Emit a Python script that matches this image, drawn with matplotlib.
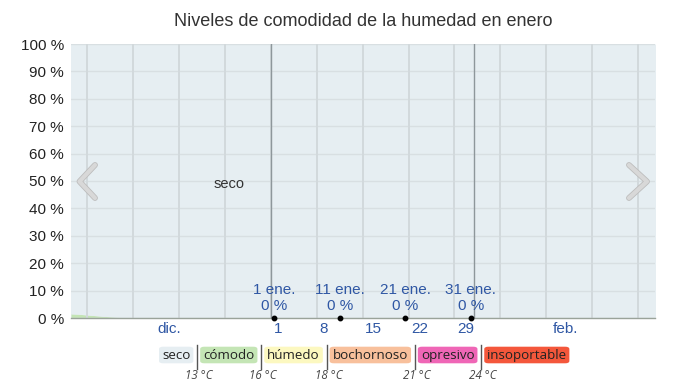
import numpy as np
import matplotlib
matplotlib.use("Agg")
import matplotlib.pyplot as plt
from matplotlib.patches import FancyBboxPatch
from matplotlib.lines import Line2D
import matplotlib.patheffects as pe

# ---------------- data ----------------
# day offsets relative to 1 January (0 = 1 ene.), one value per day
days = np.arange(-31, 60)
comodo = [1.5, 1.4, 1.2, 1.0, 0.8, 0.6, 0.45, 0.3, 0.2, 0.1, 0.05,
          0, 0, 0, 0, 0, 0, 0, 0, 0, 0, 0, 0, 0, 0, 0, 0, 0, 0, 0, 0,
          0, 0, 0, 0, 0, 0, 0, 0, 0, 0, 0, 0, 0, 0, 0, 0, 0, 0, 0, 0,
          0, 0, 0, 0, 0, 0, 0, 0, 0, 0, 0, 0, 0, 0, 0, 0, 0, 0, 0, 0,
          0, 0, 0, 0, 0, 0, 0, 0, 0, 0, 0, 0, 0, 0, 0, 0, 0, 0, 0, 0]
comodo = np.array(comodo[:len(days)], dtype=float)
seco = 100 - comodo

ann_days = [1, 11, 21, 31]
ann_labels = ["1 ene.", "11 ene.", "21 ene.", "31 ene."]
ann_values = [0, 0, 0, 0]

month_labels = ["dic.", "feb."]
month_centers = [-15.5, 45.0]
week_labels = ["1", "8", "15", "22", "29"]
week_days = [1, 8, 15, 22, 29]

yticks = [0, 10, 20, 30, 40, 50, 60, 70, 80, 90, 100]

categories = ["seco", "cómodo", "húmedo", "bochornoso", "opresivo", "insoportable"]
cat_colors = ["#e6eef2", "#c4e5b5", "#fcf8c0", "#f8c09c", "#ef66b6", "#f4573b"]
thresholds = ["13 °C", "16 °C", "18 °C", "21 °C", "24 °C"]

title = "Niveles de comodidad de la humedad en enero"

# ---------------- figure ----------------
W, H = 686, 390
fig = plt.figure(figsize=(W / 100, H / 100), dpi=100)
fig.patch.set_facecolor("white")


def fx(px):
    return px / W


def fy(py):
    return 1 - py / H


L, R, T, B = 71, 655, 44, 318
ax = fig.add_axes([fx(L), fy(B), (R - L) / W, (B - T) / H])
ax.set_xlim(-30.5, 58.6)
ax.set_ylim(0, 100)
ax.set_facecolor("#e6eef2")

x = days + 0.5
ax.fill_between(x, 0, comodo, color=cat_colors[1], lw=0, zorder=1)
ax.fill_between(x, comodo, comodo + seco, color=cat_colors[0], lw=0, zorder=1)

# grid
for v in yticks:
    ax.axhline(v, color="#d8dfe2", lw=1.0, zorder=2)
for d in range(-35, 60, 7):
    ax.axvline(d, color="#d2d9dc", lw=1.4, zorder=2)
for d in [0, 31]:
    ax.axvline(d, color="#8e979b", lw=1.0, zorder=3)

for s in ["top", "right", "left"]:
    ax.spines[s].set_visible(False)
ax.spines["bottom"].set_color("#9aa39a")
ax.spines["bottom"].set_linewidth(1.0)
ax.spines["bottom"].set_zorder(4)

ax.set_yticks(yticks)
ax.set_yticklabels([f"{v} %" for v in yticks], fontsize=11, color="#222222",
                   family="Liberation Sans")
ax.tick_params(axis="y", length=0, pad=5)
ax.set_xticks([])

blue = "#2f57a4"
xt = ax.get_xaxis_transform()
for lab, c in zip(month_labels, month_centers):
    ax.text(c, -0.04, lab, transform=xt, ha="center", va="center", fontsize=11,
            color=blue, family="Liberation Sans")
for lab, d in zip(week_labels, week_days):
    ax.text(d - 1 + 0.4, -0.04, lab, transform=xt, ha="left", va="center",
            fontsize=11, color=blue, family="Liberation Sans")

# annotations
for d, lab, v in zip(ann_days, ann_labels, ann_values):
    xd = d - 1 + 0.5
    ax.plot([xd], [v], "o", color="black", ms=3.2, zorder=6, clip_on=False)
    ax.text(xd, v + 10.2, lab, ha="center", va="center", fontsize=11,
            color=blue, family="Liberation Sans", zorder=6)
    ax.text(xd, v + 4.4, f"{v} %", ha="center", va="center", fontsize=11,
            color=blue, family="Liberation Sans", zorder=6)

ax.text(-6.4, 48.9, categories[0], ha="center", va="center", fontsize=10.5,
        color="#333333", family="Liberation Sans", zorder=6)

# title
fig.text(fx(363), fy(22), title, ha="center", va="center", fontsize=13,
         color="#333333", family="Liberation Sans")

# chevrons
for pts in ([(95, 165), (79.5, 181.5), (95, 198)],
            [(629, 165), (647, 181.5), (629, 198)]):
    xs = [fx(p[0]) for p in pts]
    ys = [fy(p[1]) for p in pts]
    ln = Line2D(xs, ys, transform=fig.transFigure, color="#d8d8d8", lw=3.0,
                solid_capstyle="round", solid_joinstyle="round", zorder=10)
    ln.set_path_effects([pe.Stroke(linewidth=4.2, foreground="#bdbdbd"), pe.Normal()])
    fig.add_artist(ln)

# legend
fig.canvas.draw()
renderer = fig.canvas.get_renderer()
x0 = 159.0
box_top, box_bot = 346.7, 363.3
pad = 3.0
legend_font = dict(fontsize=9.6, family="Open Sans", color="#222222")
seps = []
for i, (cat, col) in enumerate(zip(categories, cat_colors)):
    t = fig.text(0, 0, cat, **legend_font)
    bb = t.get_window_extent(renderer)
    t.remove()
    w = bb.width + 2 * pad
    box = FancyBboxPatch((fx(x0), fy(box_bot)), w / W, (box_bot - box_top) / H,
                         boxstyle="round,pad=0,rounding_size=0.006",
                         transform=fig.transFigure, facecolor=col,
                         edgecolor="none", zorder=5)
    fig.add_artist(box)
    fig.text(fx(x0 + w / 2), fy((box_top + box_bot) / 2 + 0.3), cat, ha="center",
             va="center", zorder=6, **legend_font)
    x_end = x0 + w
    if i < len(categories) - 1:
        sx = x_end + 3.8
        seps.append(sx)
        fig.add_artist(Line2D([fx(sx), fx(sx)], [fy(345), fy(369)],
                              transform=fig.transFigure, color="#555555", lw=1.0))
        x0 = sx + 3.0

for sx, lab in zip(seps, thresholds):
    fig.text(fx(sx + 2), fy(375.5), lab, ha="center", va="center", fontsize=8.4,
             style="italic", family="Open Sans", color="#444444")

fig.savefig("out.png", dpi=100, facecolor="white")
